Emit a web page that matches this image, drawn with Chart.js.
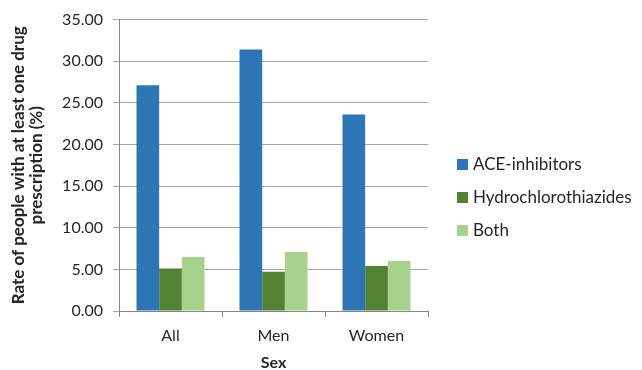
<!DOCTYPE html>
<html>
<head>
<meta charset="utf-8">
<script src="https://cdn.jsdelivr.net/npm/chart.js@4.4.0/dist/chart.umd.min.js"></script>
<style>
  html, body { margin: 0; padding: 0; background: #fff; }
  #wrap { width: 642px; height: 370px; }
</style>
</head>
<body>
<div id="wrap"><canvas id="myChart"></canvas></div>
<script>
// values
var categories = ['All', 'Men', 'Women'];
var aceInhibitors = [27.1, 31.4, 23.6];
var hydrochlorothiazides = [5.1, 4.7, 5.4];
var both = [6.5, 7.1, 6.0];
var yTicks = [0, 5, 10, 15, 20, 25, 30, 35];

var fontFamily = 'Lato, "Liberation Sans", sans-serif';
Chart.defaults.font.family = fontFamily;
Chart.defaults.color = '#262626';

// the built-in right legend gets capped in width, so draw it here
var sideLegend = {
	id: 'sideLegend',
	afterDraw: function (chart) {
		var c = chart.ctx;
		var x = chart.chartArea.right + 29;
		var y = 164;
		c.save();
		c.font = '17px ' + fontFamily;
		c.textBaseline = 'middle';
		chart.data.datasets.forEach(function (ds, i) {
			var cy = y + i * 33;
			c.fillStyle = ds.backgroundColor;
			c.fillRect(x, cy - 5, 11, 11);
			c.fillStyle = '#262626';
			c.fillText(ds.label, x + 16, cy + 1);
		});
		c.restore();
	}
};

function draw() {
	var ctx = document.getElementById('myChart').getContext('2d');
	new Chart(ctx, {
		type: 'bar',
		data: {
			labels: categories,
			datasets: [
				{ label: 'ACE-inhibitors', data: aceInhibitors, backgroundColor: '#2E75B6' },
				{ label: 'Hydrochlorothiazides', data: hydrochlorothiazides, backgroundColor: '#548235' },
				{ label: 'Both', data: both, backgroundColor: '#A9D18E' }
			]
		},
		plugins: [sideLegend],
		options: {
			responsive: true,
			maintainAspectRatio: false,
			animation: false,
			layout: { padding: { top: 18, right: 214, left: 10, bottom: 0 } },
			datasets: {
				bar: { barPercentage: 1, categoryPercentage: 0.66, borderWidth: 0 }
			},
			plugins: {
				tooltip: { enabled: false },
				legend: { display: false }
			},
			scales: {
				x: {
					afterFit: function (s) { s.height = 59; },
					grid: {
						display: true,
						drawOnChartArea: false,
						offset: true,
						color: '#868686',
						tickLength: 6
					},
					border: { color: '#868686' },
					ticks: { font: { size: 16 }, color: '#262626', padding: 9 },
					title: {
						display: true,
						text: 'Sex',
						font: { size: 16, weight: 'bold' },
						color: '#262626',
						padding: { top: 4, bottom: -2 }
					}
				},
				y: {
					min: 0,
					max: 35,
					afterFit: function (s) { s.width = 109; },
					afterBuildTicks: function (s) {
						s.ticks = yTicks.map(function (v) { return { value: v }; });
					},
					ticks: {
						font: { size: 16 },
						color: '#262626',
						padding: 10,
						callback: function (v) { return v.toFixed(2); }
					},
					grid: { color: '#A6A6A6', tickLength: 6 },
					border: { color: '#868686' },
					title: {
						display: true,
						text: ['Rate of people with at least one drug', 'prescription (%)'],
						font: { size: 17, weight: 'bold', lineHeight: 1.05 },
						color: '#262626',
						padding: { top: 0, bottom: 4 }
					}
				}
			}
		}
	});
}

if (document.fonts && document.fonts.load) {
	Promise.all([
		document.fonts.load('16px Lato'),
		document.fonts.load('bold 16px Lato')
	]).then(draw, draw);
} else {
	draw();
}
</script>
</body>
</html>
